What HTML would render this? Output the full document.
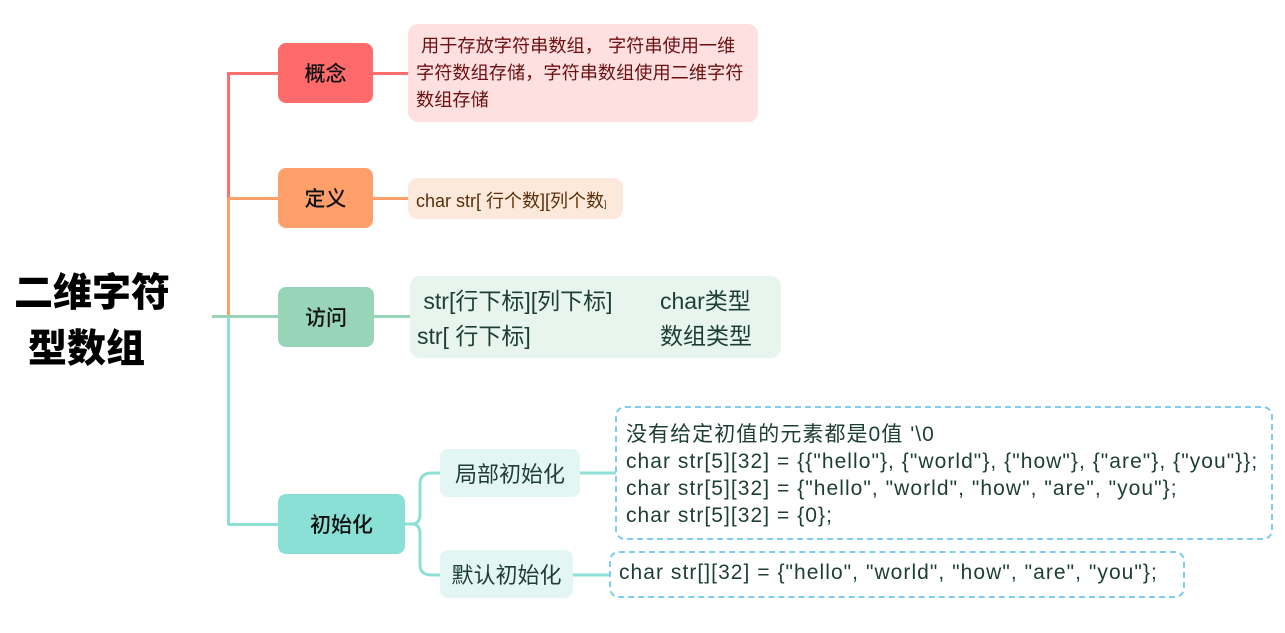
<!DOCTYPE html>
<html><head><meta charset="utf-8"><style>
body{margin:0;width:1285px;height:633px;background:#fff;position:relative;overflow:hidden;font-family:"Liberation Sans","Noto Sans CJK SC",sans-serif}
.a{position:absolute;box-sizing:border-box}
.n{display:flex;align-items:center;justify-content:center;border-radius:8px;font-size:21px;color:#111;font-weight:500}
.l{position:absolute}
</style></head><body>
<div class="a" style="left:14px;top:266px;font-size:39px;font-weight:900;line-height:56px;color:#000">二维字符<br><span style="padding-left:14px">型数组</span></div>

<div class="l" style="left:227px;top:72px;width:3px;height:127px;background:#ff6f6f"></div>
<div class="l" style="left:227px;top:198px;width:3px;height:118px;background:#ffa06b"></div>
<div class="l" style="left:227px;top:316px;width:3px;height:209px;background:#8ee0d4"></div>
<div class="l" style="left:212px;top:315px;width:66px;height:3px;background:#98d4b7"></div>
<div class="l" style="left:228px;top:72px;width:50px;height:3px;background:#ff6f6f"></div>
<div class="l" style="left:228px;top:197px;width:50px;height:3px;background:#ffa06b"></div>
<div class="l" style="left:228px;top:523px;width:50px;height:3px;background:#8ee0d4"></div>
<div class="l" style="left:373px;top:72px;width:36px;height:3px;background:#ff6f6f"></div>
<div class="l" style="left:373px;top:197px;width:36px;height:3px;background:#ffa06b"></div>
<div class="l" style="left:374px;top:315px;width:36px;height:3px;background:#98d4b7"></div>

<div class="a n" style="left:278px;top:43px;width:95px;height:60px;background:#ff6b6b">概念</div>
<div class="a n" style="left:278px;top:168px;width:95px;height:60px;background:#ffa06b">定义</div>
<div class="a n" style="left:278px;top:287px;width:96px;height:60px;background:#98d4b7">访问</div>
<div class="a n" style="left:278px;top:494px;width:127px;height:60px;background:#8ae0d4">初始化</div>

<div class="a" style="left:408px;top:24px;width:350px;height:98px;background:#ffe0e0;border-radius:10px;padding:9px 0 0 8px;font-size:18.2px;line-height:27px;color:#6b1010;white-space:nowrap">&nbsp;用于存放字符串数组， 字符串使用一维<br>字符数组存储，字符串数组使用二维字符<br>数组存储</div>
<div class="a" style="left:408px;top:178px;width:215px;height:41px;background:#fde9dc;border-radius:10px;padding:9px 0 0 8px;font-size:18px;color:#5a2e08;white-space:nowrap;letter-spacing:0px">char str[ 行个数][列个数<span style="font-size:9px">]</span></div>
<div class="a" style="left:410px;top:276px;width:371px;height:82px;background:#e8f5ee;border-radius:10px;padding:8px 0 0 7px;font-size:23px;line-height:35px;color:#1d3e34;white-space:nowrap">&nbsp;str[行下标][列下标]<span style="position:absolute;left:250px">char类型</span><br>str[ 行下标]<span style="position:absolute;left:250px">数组类型</span></div>

<svg class="a" style="left:400px;top:460px" width="220" height="130">
<path d="M5 64 H12 Q20 64 20 54 V24 Q20 13 32 13 H40" stroke="#8ee0d4" stroke-width="3" fill="none"/>
<path d="M12 64 Q20 64 20 74 V105 Q20 115 32 115 H40" stroke="#8ee0d4" stroke-width="3" fill="none"/>
<path d="M180 13 H216" stroke="#8ee0d4" stroke-width="3"/>
<path d="M173 115 H210" stroke="#8ee0d4" stroke-width="3"/>
</svg>
<div class="a n" style="left:440px;top:449px;width:140px;height:48px;background:#e4f6f4;color:#1d3e34;font-weight:400;font-size:22px">局部初始化</div>
<div class="a n" style="left:440px;top:550px;width:133px;height:48px;background:#e4f6f4;color:#1d3e34;font-weight:400;font-size:22px">默认初始化</div>

<div class="a" style="left:615px;top:406px;width:658px;height:134px;border:2px dashed #7fcdee;border-radius:10px;padding:13px 0 0 9px;font-size:21px;line-height:27px;color:#1d3e34;white-space:nowrap;letter-spacing:1.05px">没有给定初值的元素都是0值 '\0<br>char str[5][32] = {{"hello"}, {"world"}, {"how"}, {"are"}, {"you"}};<br>char str[5][32] = {"hello", "world", "how", "are", "you"};<br>char str[5][32] = {0};</div>
<div class="a" style="left:609px;top:551px;width:576px;height:47px;border:2px dashed #7fcdee;border-radius:10px;padding:8px 0 0 8px;font-size:21px;color:#1d3e34;white-space:nowrap;letter-spacing:1.05px">char str[][32] = {"hello", "world", "how", "are", "you"};</div>
</body></html>
